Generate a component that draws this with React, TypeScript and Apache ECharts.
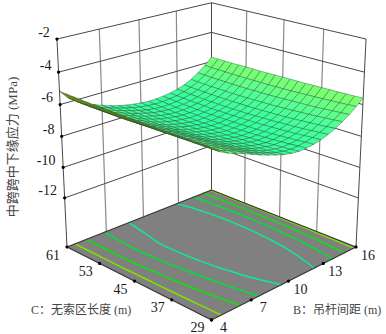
import React, { useEffect, useRef } from "react";
import * as echarts from "echarts";

const bValues = [4, 4.6, 5.2, 5.8, 6.4, 7, 7.6, 8.2, 8.8, 9.4, 10, 10.6, 11.2, 11.8, 12.4, 13, 13.6, 14.2, 14.8, 15.4, 16];
const cValues = [29, 30.6, 32.2, 33.8, 35.4, 37, 38.6, 40.2, 41.8, 43.4, 45, 46.6, 48.2, 49.8, 51.4, 53, 54.6, 56.2, 57.8, 59.4, 61];
// rows follow cValues, columns follow bValues
const stress = [
  [-5.30, -5.70, -5.95, -6.13, -6.33, -6.54, -6.75, -6.93, -7.10, -7.25, -7.35, -7.40, -7.38, -7.32, -7.21, -7.05, -6.85, -6.60, -6.31, -5.97, -5.60],
  [-5.31, -5.71, -5.97, -6.16, -6.36, -6.58, -6.80, -6.98, -7.15, -7.30, -7.40, -7.45, -7.42, -7.36, -7.25, -7.10, -6.90, -6.65, -6.35, -6.00, -5.62],
  [-5.31, -5.71, -5.98, -6.19, -6.40, -6.62, -6.83, -7.03, -7.20, -7.34, -7.44, -7.49, -7.47, -7.41, -7.29, -7.14, -6.95, -6.69, -6.39, -6.04, -5.63],
  [-5.32, -5.72, -6.00, -6.22, -6.43, -6.65, -6.88, -7.07, -7.24, -7.38, -7.47, -7.52, -7.51, -7.44, -7.33, -7.19, -6.99, -6.73, -6.43, -6.06, -5.65],
  [-5.32, -5.72, -6.02, -6.25, -6.46, -6.68, -6.91, -7.11, -7.28, -7.41, -7.51, -7.56, -7.54, -7.48, -7.36, -7.22, -7.02, -6.77, -6.46, -6.09, -5.65],
  [-5.31, -5.73, -6.03, -6.27, -6.48, -6.71, -6.94, -7.14, -7.30, -7.44, -7.53, -7.58, -7.57, -7.51, -7.40, -7.25, -7.06, -6.80, -6.49, -6.11, -5.67],
  [-5.32, -5.73, -6.05, -6.30, -6.51, -6.74, -6.97, -7.17, -7.33, -7.46, -7.55, -7.60, -7.59, -7.53, -7.42, -7.28, -7.09, -6.83, -6.51, -6.13, -5.67],
  [-5.31, -5.74, -6.06, -6.32, -6.53, -6.77, -7.00, -7.20, -7.36, -7.49, -7.57, -7.62, -7.61, -7.55, -7.44, -7.31, -7.11, -6.86, -6.53, -6.15, -5.69],
  [-5.31, -5.74, -6.08, -6.34, -6.56, -6.79, -7.01, -7.22, -7.38, -7.50, -7.59, -7.64, -7.62, -7.56, -7.46, -7.32, -7.13, -6.88, -6.55, -6.17, -5.69],
  [-5.31, -5.74, -6.09, -6.36, -6.58, -6.81, -7.03, -7.24, -7.39, -7.51, -7.60, -7.65, -7.64, -7.58, -7.47, -7.34, -7.15, -6.90, -6.57, -6.18, -5.69],
  [-5.30, -5.75, -6.10, -6.38, -6.60, -6.83, -7.05, -7.25, -7.40, -7.52, -7.60, -7.65, -7.64, -7.58, -7.48, -7.35, -7.16, -6.91, -6.58, -6.19, -5.70],
  [-5.29, -5.75, -6.11, -6.40, -6.62, -6.85, -7.06, -7.26, -7.41, -7.52, -7.60, -7.65, -7.64, -7.58, -7.48, -7.36, -7.17, -6.92, -6.59, -6.20, -5.70],
  [-5.29, -5.76, -6.13, -6.41, -6.64, -6.86, -7.07, -7.26, -7.41, -7.52, -7.60, -7.65, -7.64, -7.58, -7.48, -7.36, -7.17, -6.93, -6.59, -6.20, -5.71],
  [-5.27, -5.77, -6.14, -6.43, -6.65, -6.87, -7.09, -7.27, -7.40, -7.51, -7.59, -7.64, -7.63, -7.57, -7.48, -7.36, -7.17, -6.93, -6.60, -6.20, -5.72],
  [-5.26, -5.77, -6.15, -6.44, -6.66, -6.87, -7.08, -7.27, -7.39, -7.50, -7.57, -7.62, -7.61, -7.57, -7.48, -7.35, -7.17, -6.93, -6.60, -6.20, -5.71],
  [-5.25, -5.76, -6.14, -6.44, -6.66, -6.86, -7.06, -7.24, -7.38, -7.48, -7.55, -7.60, -7.60, -7.55, -7.46, -7.34, -7.16, -6.92, -6.59, -6.20, -5.71],
  [-5.24, -5.76, -6.14, -6.44, -6.66, -6.85, -7.04, -7.21, -7.35, -7.47, -7.54, -7.59, -7.58, -7.52, -7.44, -7.32, -7.15, -6.91, -6.58, -6.19, -5.71],
  [-5.22, -5.76, -6.14, -6.44, -6.65, -6.84, -7.02, -7.18, -7.32, -7.44, -7.51, -7.56, -7.55, -7.50, -7.43, -7.30, -7.13, -6.90, -6.57, -6.18, -5.72],
  [-5.21, -5.76, -6.14, -6.43, -6.65, -6.83, -7.00, -7.16, -7.30, -7.42, -7.48, -7.53, -7.51, -7.47, -7.39, -7.28, -7.11, -6.88, -6.56, -6.17, -5.71],
  [-5.19, -5.76, -6.13, -6.42, -6.63, -6.82, -6.99, -7.14, -7.27, -7.38, -7.44, -7.49, -7.48, -7.44, -7.37, -7.25, -7.09, -6.86, -6.54, -6.16, -5.71],
  [-5.17, -5.75, -6.12, -6.41, -6.61, -6.80, -6.98, -7.13, -7.25, -7.34, -7.40, -7.45, -7.44, -7.40, -7.33, -7.22, -7.06, -6.83, -6.52, -6.14, -5.70],
];
const zTicks = [-2, -4, -6, -8, -10, -12];
const bTicks = [4, 7, 10, 13, 16];
const cTicks = [29, 37, 45, 53, 61];
const contourLevels = [-5.75, -6.25, -6.75, -7.25];
const contourColors = ["#7fe000", "#10e010", "#00e038", "#10e890"];
const yTitle = "中跨跨中下缘应力 (MPa)";
const bTitle = "B：吊杆间距 (m)";
const cTitle = "C：无索区长度 (m)";

const Z_FLOOR = -15.3;
const Z_TOP = -2;
const { linearMap } = echarts.number;

// Perspective view of the box
function project(b: number, c: number, z: number): number[] {
  const u = linearMap(b, [4, 16], [0, 1], false);
  const v = linearMap(c, [29, 61], [0, 1], false);
  const h = linearMap(z, [Z_FLOOR, Z_TOP], [0, 1], false);
  const x = u - v;
  const y = u + v - 1;
  const w = 1 + 0.123 * y - 0.065 * h;
  return [211.5 + (144.5 * x) / w, (247 - 33.6 * y - 210.5 * h) / w];
}
function depth(b: number, c: number) {
  return linearMap(b, [4, 16], [0, 1], false) + linearMap(c, [29, 61], [0, 1], false);
}

const stops: [number, number[]][] = [
  [-7.7, [45, 255, 160]],
  [-6.8, [80, 255, 150]],
  [-5.2, [150, 255, 90]],
];
function surfaceColor(z: number) {
  let a = stops[0], b = stops[1];
  if (z > stops[1][0]) { a = stops[1]; b = stops[2]; }
  const t = Math.max(0, Math.min(1, (z - a[0]) / (b[0] - a[0])));
  const rgb = a[1].map((v, k) => Math.round(v + (b[1][k] - v) * t));
  return `rgb(${rgb.join(",")})`;
}

// surface cells, far ones first
const cells: number[][] = [];
for (let j = 0; j < cValues.length - 1; j++) {
  for (let i = 0; i < bValues.length - 1; i++) cells.push([i, j]);
}
cells.sort((p, q) =>
  depth(bValues[q[0]] , cValues[q[1]]) - depth(bValues[p[0]], cValues[p[1]]));

// contour segments on the floor
function crossings(level: number) {
  const segs: number[][] = [];
  for (let j = 0; j < cValues.length - 1; j++) {
    for (let i = 0; i < bValues.length - 1; i++) {
      const corners = [[i, j], [i + 1, j], [i + 1, j + 1], [i, j + 1]];
      const pts: number[][] = [];
      for (let k = 0; k < 4; k++) {
        const [i0, j0] = corners[k];
        const [i1, j1] = corners[(k + 1) % 4];
        const a = stress[j0][i0], b = stress[j1][i1];
        if ((a < level) !== (b < level)) {
          const t = (level - a) / (b - a);
          pts.push([
            bValues[i0] + (bValues[i1] - bValues[i0]) * t,
            cValues[j0] + (cValues[j1] - cValues[j0]) * t,
          ]);
        }
      }
      if (pts.length >= 2) segs.push([pts[0][0], pts[0][1], pts[1][0], pts[1][1]]);
    }
  }
  return segs;
}

const FONT = "'Liberation Serif', 'Noto Sans CJK SC', serif";

export default function App() {
  const ref = useRef<HTMLDivElement>(null);
  useEffect(() => {
    document.body.style.margin = "0";
    const chart = echarts.init(ref.current!, null, { renderer: "svg" });

    const wallSegs: any[] = [];
    const top = Z_TOP;
    const addSeg = (a: number[], b: number[], stroke: string, width: number) =>
      wallSegs.push([a[0], a[1], b[0], b[1], stroke, width]);
    // verticals
    const light = "#8a8a8a", dark = "#484848";
    bTicks.forEach((b) => addSeg(project(b, 61, Z_FLOOR), project(b, 61, top), b === 4 || b === 16 ? dark : light, b === 4 || b === 16 ? 1 : 1.2));
    cTicks.forEach((c) => c !== 61 && addSeg(project(16, c, Z_FLOOR), project(16, c, top), c === 29 ? dark : light, c === 29 ? 1 : 1.2));
    // horizontals
    zTicks.forEach((z) => {
      addSeg(project(4, 61, z), project(16, 61, z), dark, 1);
      addSeg(project(16, 61, z), project(16, 29, z), dark, 1);
    });

    const contourSegs: any[] = [];
    contourLevels.forEach((lv, k) => crossings(lv).forEach((s) => contourSegs.push([...s, k])));

    const floorEdges = [
      [4, 61, 4, 29],
      [4, 29, 16, 29],
      [16, 29, 16, 61],
      [16, 61, 4, 61],
    ];

    const dots: number[][] = [];
    zTicks.forEach((z) => dots.push(project(4, 61, z)));
    bTicks.forEach((b) => dots.push(project(b, 29, Z_FLOOR)));
    cTicks.forEach((c) => dots.push(project(4, c, Z_FLOOR)));

    const texts: any[] = [];
    const addText = (text: string, x: number, y: number, fontSize: number, fill: string, extra: any = {}) =>
      texts.push({
        type: "text",
        x,
        y,
        silent: true,
        ...extra,
        style: { text, font: `${fontSize}px ${FONT}`, fill, textAlign: "center", textVerticalAlign: "middle", ...(extra.style || {}) },
      });
    zTicks.forEach((z) => {
      const p = project(4, 61, z);
      addText(String(z), p[0] - 13, p[1] - 7, 14, "#1a1a1a", z <= -10 ? { x: p[0] - 17 } : {});
    });
    bTicks.forEach((b) => {
      const p = project(b, 29, Z_FLOOR);
      addText(String(b), p[0] + 12, p[1] + 8, 14, "#1a1a1a");
    });
    cTicks.forEach((c) => {
      const p = project(4, c, Z_FLOOR);
      addText(String(c), p[0] - 14, p[1] + 8, 14, "#1a1a1a");
    });
    addText(yTitle, 12, 147, 13, "#444", { rotation: Math.PI / 2 });
    addText(bTitle, 293, 310, 12, "#444", { style: { textAlign: "left" } });
    addText(cTitle, 31, 310, 12, "#444", { style: { textAlign: "left" } });

    chart.setOption({
      animation: false,
      backgroundColor: "#fff",
      graphic: texts,
      series: [
        {
          type: "custom",
          coordinateSystem: "none",
          silent: true,
          z: 1,
          data: [[0]],
          renderItem: () => {
            const pts = [[4, 61], [4, 29], [16, 29], [16, 61]].map(([b, c]) => project(b, c, Z_FLOOR));
            return { type: "polygon", shape: { points: pts }, style: { fill: "#808080", stroke: "none" } };
          },
        },
        {
          type: "custom",
          coordinateSystem: "none",
          silent: true,
          z: 2,
          data: wallSegs.map((_, k) => [k]),
          renderItem: (_: any, api: any) => {
            const s = wallSegs[api.value(0)];
            return { type: "line", shape: { x1: s[0], y1: s[1], x2: s[2], y2: s[3] }, style: { stroke: s[4], lineWidth: s[5], fill: "none" } };
          },
        },
        {
          type: "custom",
          coordinateSystem: "none",
          silent: true,
          z: 3,
          data: contourSegs.map((_, k) => [k]),
          renderItem: (_: any, api: any) => {
            const s = contourSegs[api.value(0)];
            const a = project(s[0], s[1], Z_FLOOR);
            const b = project(s[2], s[3], Z_FLOOR);
            return { type: "line", shape: { x1: a[0], y1: a[1], x2: b[0], y2: b[1] }, style: { stroke: contourColors[s[4]], lineWidth: 1.5, lineCap: "round", fill: "none" } };
          },
        },
        {
          type: "custom",
          coordinateSystem: "none",
          silent: true,
          z: 4,
          data: floorEdges.map((_, k) => [k]),
          renderItem: (_: any, api: any) => {
            const s = floorEdges[api.value(0)];
            const a = project(s[0], s[1], Z_FLOOR);
            const b = project(s[2], s[3], Z_FLOOR);
            return { type: "line", shape: { x1: a[0], y1: a[1], x2: b[0], y2: b[1] }, style: { stroke: "#333", lineWidth: 1.1, fill: "none" } };
          },
        },
        {
          type: "custom",
          coordinateSystem: "none",
          silent: true,
          z: 5,
          data: dots.map((_, k) => [k]),
          renderItem: (_: any, api: any) => {
            const d = dots[api.value(0)];
            return { type: "circle", shape: { cx: d[0], cy: d[1], r: 1.6 }, style: { fill: "#000" } };
          },
        },
        {
          type: "custom",
          coordinateSystem: "none",
          silent: true,
          z: 6,
          progressive: 0,
          data: cells.map((_, k) => [k]),
          renderItem: (_: any, api: any) => {
            const [i, j] = cells[api.value(0)];
            const idx = [[i, j], [i + 1, j], [i + 1, j + 1], [i, j + 1]];
            const pts = idx.map(([a, b]) => project(bValues[a], cValues[b], stress[b][a]));
            let area = 0;
            pts.forEach((p, k) => {
              const n = pts[(k + 1) % 4];
              area += p[0] * n[1] - n[0] * p[1];
            });
            const mean = idx.reduce((t, [a, b]) => t + stress[b][a], 0) / 4;
            const fill = area > 0 ? "#7d8c06" : surfaceColor(mean);
            return { type: "polygon", shape: { points: pts }, style: { fill, stroke: "#1f4f33", lineWidth: 0.4, lineJoin: "round" } };
          },
        },
      ],
    });
    return () => chart.dispose();
  }, []);
  return <div ref={ref} style={{ position: "absolute", left: 0, top: 0, width: 386, height: 334 }} />;
}
